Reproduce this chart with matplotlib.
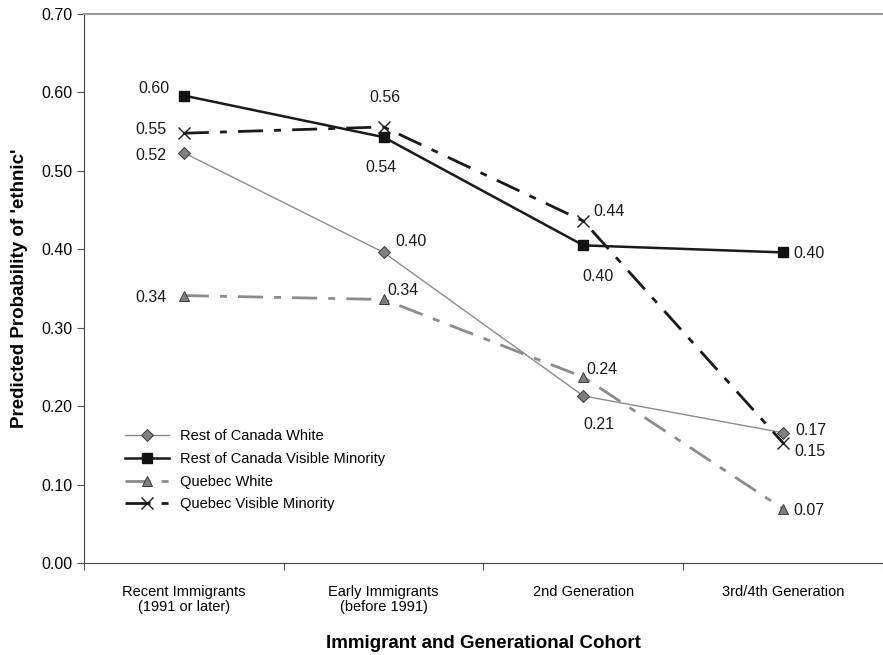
import matplotlib
matplotlib.use('Agg')
import matplotlib.pyplot as plt

plt.rcParams['font.family'] = ['Liberation Sans', 'DejaVu Sans']

cohorts = ['Recent Immigrants\n(1991 or later)', 'Early Immigrants\n(before 1991)',
           '2nd Generation', '3rd/4th Generation']
roc_white = [0.523, 0.396, 0.213, 0.166]
roc_vm = [0.596, 0.543, 0.405, 0.396]
qc_white = [0.341, 0.336, 0.237, 0.069]
qc_vm = [0.548, 0.556, 0.436, 0.153]

# label text and pixel offset of the label centre from its point
lbl_roc_white = ['0.52', '0.40', '0.21', '0.17']
lbl_roc_vm = ['0.60', '0.54', '0.40', '0.40']
lbl_qc_white = ['0.34', '0.34', '0.24', '0.07']
lbl_qc_vm = ['0.55', '0.56', '0.44', '0.15']

off_roc_white = [(-33, -3), (27, 11), (16, -29), (28, 2)]
off_roc_vm = [(-30, 7), (-3, -30), (15, -31), (26, -1)]
off_qc_white = [(-33, -2), (19, 9), (19, 8), (26, -2)]
off_qc_vm = [(-33, 4), (1, 29), (26, 10), (27, -9)]

fig = plt.figure(figsize=(8.83, 6.55), dpi=100)
ax = fig.add_axes([0.0951, 0.1405, 0.9049, 0.8381])

x = [0.5, 1.5, 2.5, 3.5]
dashdot = (0, (9, 4, 2.5, 4))

ax.plot(x, roc_white, color='#8c8c8c', lw=1, marker='D', ms=6.5,
        mfc='#7f7f7f', mec='#3a3a3a', mew=0.7, label='Rest of Canada White')
ax.plot(x, roc_vm, color='#1a1a1a', lw=1.8, marker='s', ms=6.5,
        mfc='#111111', mec='#111111', label='Rest of Canada Visible Minority')
ax.plot(x, qc_white, color='#8c8c8c', lw=2, linestyle=dashdot, marker='^', ms=7,
        mfc='#7f7f7f', mec='#3a3a3a', mew=0.7, label='Quebec White')
ax.plot(x, qc_vm, color='#1a1a1a', lw=2, linestyle=dashdot, marker='x', ms=8,
        mec='#1a1a1a', mew=1, label='Quebec Visible Minority')

for vals, lbls, offs in [(roc_white, lbl_roc_white, off_roc_white),
                         (roc_vm, lbl_roc_vm, off_roc_vm),
                         (qc_white, lbl_qc_white, off_qc_white),
                         (qc_vm, lbl_qc_vm, off_qc_vm)]:
    for xi, v, t, o in zip(x, vals, lbls, offs):
        ax.annotate(t, (xi, v), xytext=o, textcoords='offset pixels',
                    ha='center', va='center', fontsize=11.5, color='#1a1a1a')

ax.set_xlim(0, 4)
ax.set_ylim(0, 0.7)
ax.set_yticks([i / 10 for i in range(8)])
ax.set_yticklabels(['%.2f' % (i / 10) for i in range(8)], fontsize=11.5)
ax.set_xticks([0, 1, 2, 3, 4])
ax.set_xticklabels([])
ax.set_xticks(x, minor=True)
ax.set_xticklabels(cohorts, minor=True, fontsize=10.5, linespacing=1.05)
ax.tick_params(axis='x', which='minor', length=0, pad=16)
ax.tick_params(axis='x', which='major', length=5, direction='out', color='#555555')
ax.tick_params(axis='y', length=5, direction='out', color='#555555')

ax.spines['right'].set_visible(False)
ax.spines['top'].set_color('#999999')
ax.spines['top'].set_linewidth(1.5)
ax.spines['left'].set_color('#444444')
ax.spines['bottom'].set_color('#444444')

ax.set_ylabel("Predicted Probability of 'ethnic'", fontsize=13.5, fontweight='bold',
              labelpad=9)
ax.set_xlabel('Immigrant and Generational Cohort', fontsize=13.5, fontweight='bold',
              labelpad=15)

ax.legend(loc='lower left', bbox_to_anchor=(0.035, 0.07), frameon=False, fontsize=10.5,
          handlelength=3.0, labelspacing=0.6)

fig.savefig('out.png', dpi=100)
